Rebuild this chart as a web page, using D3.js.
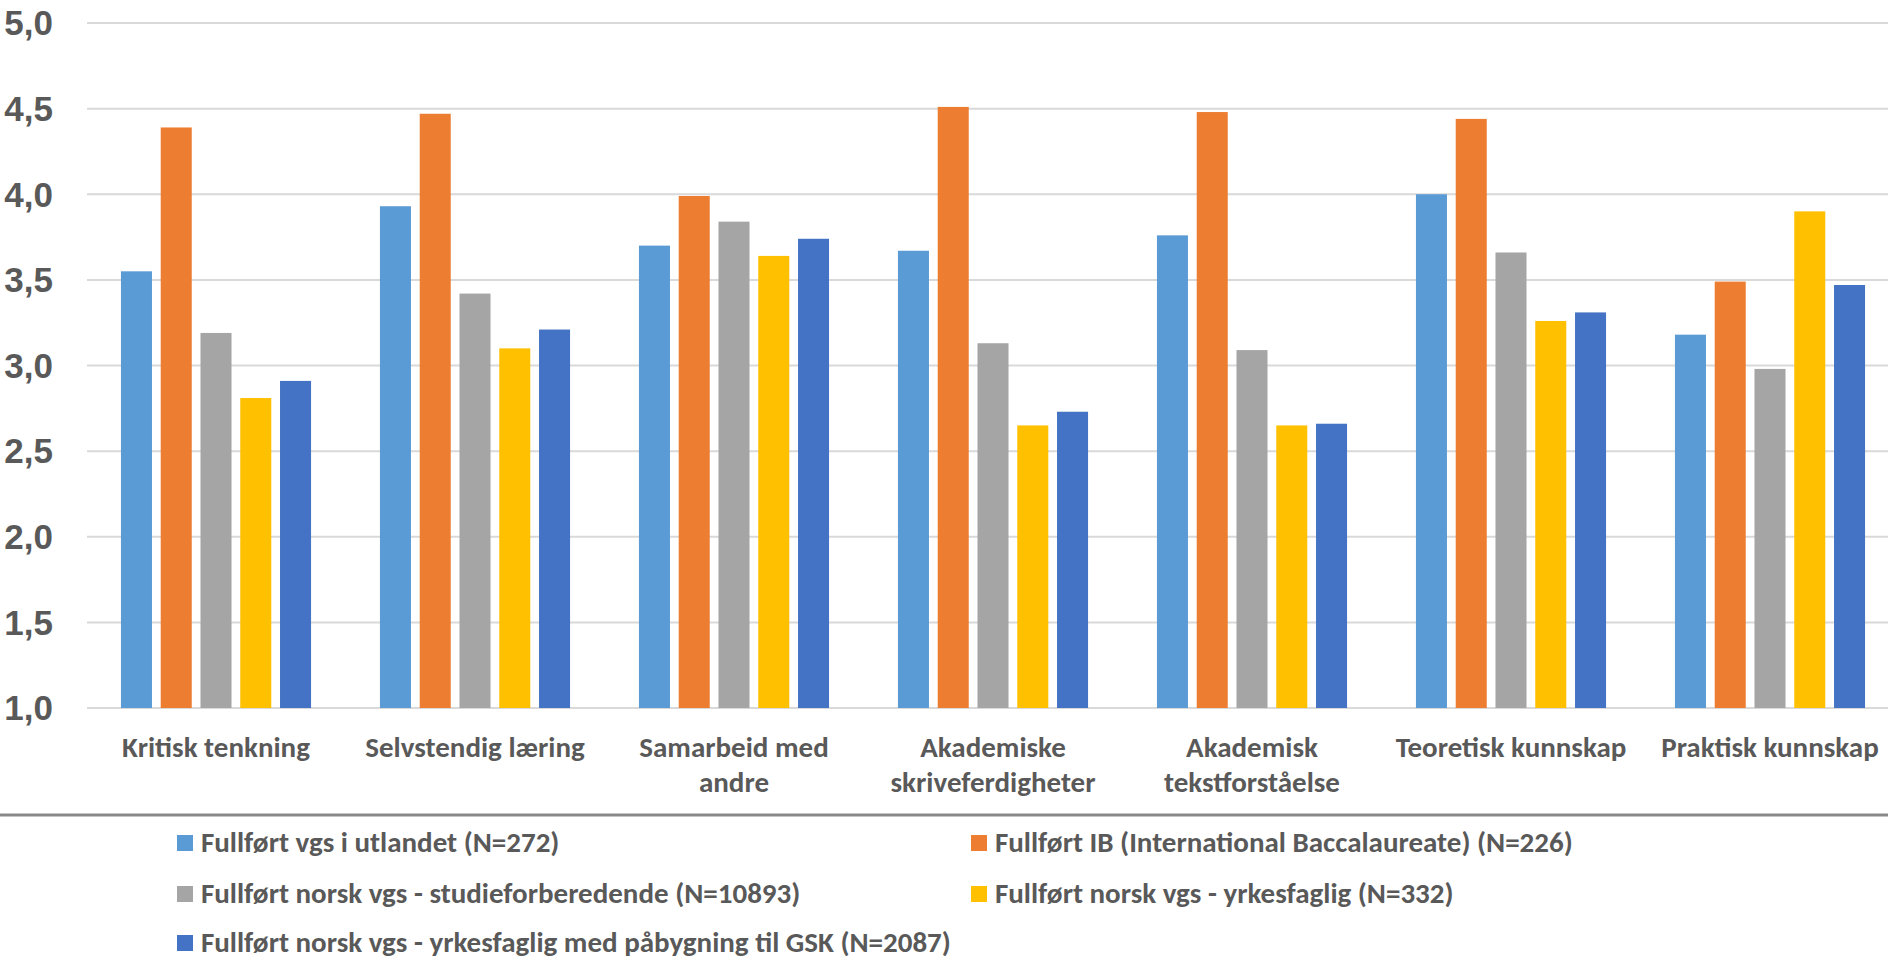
<!DOCTYPE html>
<html>
<head>
<meta charset="utf-8">
<script src="https://cdn.jsdelivr.net/npm/d3@7.9.0/dist/d3.min.js"></script>
<style>
  html, body { margin: 0; padding: 0; background: #fff; overflow: hidden; }
  .lbl { font-family: Carlito, Calibri, Lato, "Open Sans", sans-serif; font-weight: bold; fill: #595959; }
  .tick { font-family: "Liberation Sans Narrow", "Arial Narrow", "Liberation Sans", Arial, sans-serif; font-weight: bold; fill: #595959; }
</style>
</head>
<body>
<div id="chart"></div>
<script>
// categories (x axis), each label split into lines as in the picture
const categories = [
  ["Kritisk tenkning"],
  ["Selvstendig læring"],
  ["Samarbeid med", "andre"],
  ["Akademiske", "skriveferdigheter"],
  ["Akademisk", "tekstforståelse"],
  ["Teoretisk kunnskap"],
  ["Praktisk kunnskap"]
];

const seriesNames = [
  "Fullført vgs i utlandet (N=272)",
  "Fullført IB (International Baccalaureate) (N=226)",
  "Fullført norsk vgs - studieforberedende (N=10893)",
  "Fullført norsk vgs - yrkesfaglig (N=332)",
  "Fullført norsk vgs - yrkesfaglig med påbygning til GSK (N=2087)"
];

const seriesColors = ["#5B9BD5", "#ED7D31", "#A5A5A5", "#FFC000", "#4472C4"];

// values per series, one per category
const utlandet  = [3.55, 3.93, 3.70, 3.67, 3.76, 4.00, 3.18];
const ib        = [4.39, 4.47, 3.99, 4.51, 4.48, 4.44, 3.49];
const studief   = [3.19, 3.42, 3.84, 3.13, 3.09, 3.66, 2.98];
const yrkesfag  = [2.81, 3.10, 3.64, 2.65, 2.65, 3.26, 3.90];
const paabygg   = [2.91, 3.21, 3.74, 2.73, 2.66, 3.31, 3.47];

const yTicks = [1.0, 1.5, 2.0, 2.5, 3.0, 3.5, 4.0, 4.5, 5.0];

const allSeries = [utlandet, ib, studief, yrkesfag, paabygg];

const width = 1888, height = 962;

const svg = d3.select("#chart")
  .append("svg")
    .attr("width", width)
    .attr("height", height);

// scales
const x0 = d3.scaleBand()
  .domain(d3.range(categories.length))
  .range([86.5, 1899.5])
  .paddingInner(0.266)
  .paddingOuter(0.133);

const x1 = d3.scaleBand()
  .domain(d3.range(seriesNames.length))
  .range([0, x0.bandwidth()])
  .paddingInner(0.22);

const y = d3.scaleLinear()
  .domain([1, 5])
  .range([708, 23]);

const fmt = d => d.toFixed(1).replace(".", ",");

// gridlines
svg.append("g")
  .selectAll("line")
  .data(yTicks)
  .join("line")
    .attr("x1", 87)
    .attr("x2", width)
    .attr("y1", d => y(d))
    .attr("y2", d => y(d))
    .attr("stroke", "#D9D9D9")
    .attr("stroke-width", 2);

// y tick labels
svg.append("g")
  .selectAll("text")
  .data(yTicks)
  .join("text")
    .attr("class", "tick")
    .attr("x", 53)
    .attr("y", d => y(d))
    .attr("dy", "0.35em")
    .attr("text-anchor", "end")
    .style("font-size", "35px")
    .text(fmt);

// bars
const groups = svg.append("g")
  .selectAll("g")
  .data(categories.map((c, i) => i))
  .join("g")
    .attr("transform", i => `translate(${x0(i)},0)`);

groups.selectAll("rect")
  .data(i => allSeries.map((s, k) => ({ k, value: s[i] })))
  .join("rect")
    .attr("x", d => x1(d.k))
    .attr("y", d => y(d.value))
    .attr("width", x1.bandwidth())
    .attr("height", d => y(1) - y(d.value))
    .attr("fill", d => seriesColors[d.k]);

// category labels
const catLabels = svg.append("g")
  .selectAll("text")
  .data(categories)
  .join("text")
    .attr("class", "lbl")
    .attr("text-anchor", "middle")
    .style("font-size", "29px")
    .attr("transform", (d, i) => `translate(${x0(i) + x0.bandwidth() / 2},757)`);

catLabels.selectAll("tspan")
  .data(d => d)
  .join("tspan")
    .attr("x", 0)
    .attr("y", (d, j) => j * 35)
    .text(d => d);

// separator line above legend
svg.append("line")
  .attr("x1", 0)
  .attr("x2", width)
  .attr("y1", 815)
  .attr("y2", 815)
  .attr("stroke", "#898989")
  .attr("stroke-width", 3);

// legend: two columns, three rows
const legendCols = [177, 971];
const legendRows = [843, 894, 943];

const legendItems = svg.append("g")
  .selectAll("g")
  .data(seriesNames.map((name, k) => ({ name, k })))
  .join("g")
    .attr("transform", d => `translate(${legendCols[d.k % 2]},${legendRows[Math.floor(d.k / 2)]})`);

legendItems.append("rect")
  .attr("x", 0)
  .attr("y", -8)
  .attr("width", 16)
  .attr("height", 16)
  .attr("fill", d => seriesColors[d.k]);

legendItems.append("text")
  .attr("class", "lbl")
  .attr("x", 24)
  .attr("y", 9)
  .style("font-size", "29px")
  .text(d => d.name);
</script>
</body>
</html>
